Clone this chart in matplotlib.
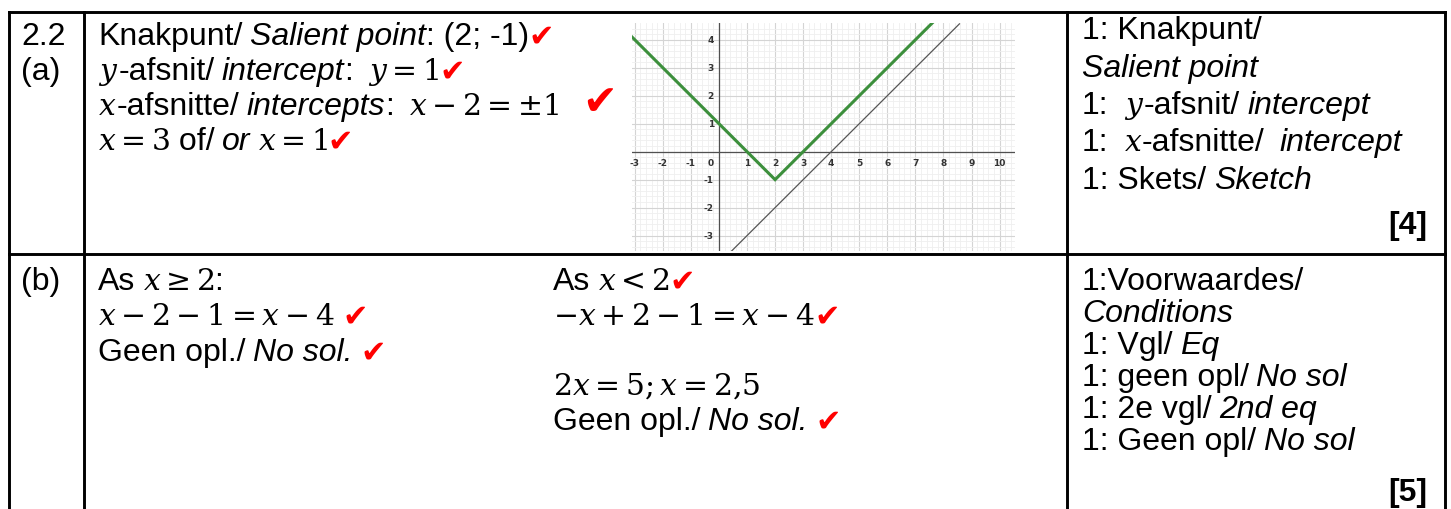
import matplotlib
matplotlib.use("Agg")
import matplotlib.pyplot as plt

W, H = 1451, 510

# graph data
green_x = [-3.1, 2, 7.6]
green_y = [4.1, -1, 4.6]
gray_x = [0.43, 8.57]
gray_y = [-3.57, 4.57]
x_ticks = [-3, -2, -1, 1, 2, 3, 4, 5, 6, 7, 8, 9, 10]
y_ticks = [-3, -2, -1, 1, 2, 3, 4]

# memo text, as runs of (text, style)
row_a_labels = ["2.2", "(a)"]
row_a_lines = [
    [("Knakpunt/", "n"), (" ", "sp"), ("Salient point", "i"), (": (2; -1)", "n"), ("\u2714", "ck")],
    [("$y$", "m"), ("-afsnit/", "n"), (" ", "sp"), ("intercept", "i"), (":", "n"), ("  ", "sp"),
     ("$y = 1$", "m"), ("\u2714", "ck")],
    [("$x$", "m"), ("-afsnitte/", "n"), (" ", "sp"), ("intercepts", "i"), (":", "n"), ("  ", "sp"),
     ("$x - 2 = \\pm 1$", "m"), ("   ", "sp"), ("\u2714", "ckbig")],
    [("$x = 3$", "m"), (" of/", "n"), (" ", "sp"), ("or", "i"), (" ", "sp"), ("$x = 1$", "m"), ("\u2714", "ck")],
]
row_a_marks = [
    [("1: Knakpunt/", "n")],
    [("Salient point", "i")],
    [("1:", "n"), ("  ", "sp"), ("$y$", "m"), ("-afsnit/", "n"), (" ", "sp"), ("intercept", "i")],
    [("1:", "n"), ("  ", "sp"), ("$x$", "m"), ("-afsnitte/", "n"), ("  ", "sp"), ("intercept", "i")],
    [("1: Skets/", "n"), (" ", "sp"), ("Sketch", "i")],
]
row_b_label = "(b)"
row_b_left = [
    [("As", "n"), (" ", "sp"), ("$x \\geq 2$", "m"), (":", "n")],
    [("$x - 2 - 1 = x - 4$", "m"), (" ", "sp"), ("\u2714", "ck")],
    [("Geen opl./", "n"), (" ", "sp"), ("No sol.", "i"), (" ", "sp"), ("\u2714", "ck")],
]
row_b_mid = [
    [("As", "n"), (" ", "sp"), ("$x < 2$", "m"), ("\u2714", "ck")],
    [("$-x + 2 - 1 = x - 4$", "m"), ("\u2714", "ck")],
    [],
    [("$2x = 5; x = 2{,}5$", "m")],
    [("Geen opl./", "n"), (" ", "sp"), ("No sol.", "i"), (" ", "sp"), ("\u2714", "ck")],
]
row_b_marks = [
    [("1:Voorwaardes/", "n")],
    [("Conditions", "i")],
    [("1: Vgl/", "n"), (" ", "sp"), ("Eq", "i")],
    [("1: geen opl/", "n"), (" ", "sp"), ("No sol", "i")],
    [("1: 2e vgl/", "n"), (" ", "sp"), ("2nd eq", "i")],
    [("1: Geen opl/", "n"), (" ", "sp"), ("No sol", "i")],
]
totals = ["[4]", "[5]"]

FS = 23
plt.rcParams["mathtext.fontset"] = "dejavuserif"
STYLES = {
    "n": dict(family="Liberation Sans", fontsize=FS, color="black"),
    "i": dict(family="Liberation Sans", fontsize=FS, style="italic", color="black"),
    "m": dict(family="Liberation Sans", fontsize=21.5, color="black"),
    "ck": dict(family="DejaVu Sans", fontsize=22, color="#ff0000"),
    "ckbig": dict(family="DejaVu Sans", fontsize=30, color="#ff0000"),
}
SPACE = 7.5

fig = plt.figure(figsize=(W / 100, H / 100), dpi=100)
ax = fig.add_axes([0, 0, 1, 1])
ax.set_xlim(0, W)
ax.set_ylim(H, 0)
ax.axis("off")
renderer = fig.canvas.get_renderer()


def draw_runs(x, y, runs):
    for text, style in runs:
        if style == "sp":
            x += SPACE * len(text)
            continue
        t = ax.text(x, y, text, ha="left", va="baseline", **STYLES[style])
        bb = t.get_window_extent(renderer)
        x = ax.transData.inverted().transform((bb.x1, bb.y0))[0]


# table rules
lw = 2.1
for yy in [13, 255]:
    ax.plot([9, 1445], [yy, yy], color="black", lw=lw, solid_capstyle="projecting")
for xx in [9, 84, 1067, 1445]:
    ax.plot([xx, xx], [13, H + 5], color="black", lw=lw, solid_capstyle="projecting")

# row (a)
for i, lab in enumerate(row_a_labels):
    ax.text(21, 45 + 35 * i, lab, ha="left", va="baseline", **STYLES["n"])
for i, runs in enumerate(row_a_lines):
    draw_runs(98, 45 + 35 * i, runs)
for i, runs in enumerate(row_a_marks):
    draw_runs(1082, 39 + 37.5 * i, runs)
ax.text(1427, 234, totals[0], ha="right", va="baseline", fontweight="bold", **STYLES["n"])

# row (b)
ax.text(21, 290, row_b_label, ha="left", va="baseline", **STYLES["n"])
for i, runs in enumerate(row_b_left):
    draw_runs(98, 290 + 35.5 * i, runs)
for i, runs in enumerate(row_b_mid):
    draw_runs(553, 290 + 35 * i, runs)
for i, runs in enumerate(row_b_marks):
    draw_runs(1082, 290 + 32 * i, runs)
ax.text(1427, 501, totals[1], ha="right", va="baseline", fontweight="bold", **STYLES["n"])

# the sketch of the graph
gx0, gx1, gy0, gy1 = 632, 1015, 24, 252
gax = fig.add_axes([gx0 / W, 1 - gy1 / H, (gx1 - gx0) / W, (gy1 - gy0) / H])
gax.set_xlim(-3.1, 10.55)
gax.set_ylim(-3.55, 4.6)
for s in gax.spines.values():
    s.set_visible(False)
gax.set_xticks(range(-3, 11))
gax.set_yticks(range(-3, 5))
gax.set_xticks([v / 5 for v in range(-15, 53)], minor=True)
gax.set_yticks([v / 5 for v in range(-17, 23)], minor=True)
gax.grid(which="major", color="#d4d4d4", lw=0.8)
gax.grid(which="minor", color="#efefef", lw=0.6)
gax.tick_params(which="both", length=0, labelbottom=False, labelleft=False)
gax.axhline(0, color="#505050", lw=0.9)
gax.axvline(0, color="#505050", lw=0.9)
gax.plot(gray_x, gray_y, color="#555555", lw=0.9)
gax.plot(green_x, green_y, color="#3c8f3c", lw=2.2, solid_joinstyle="miter")
for v in x_ticks:
    gax.text(v, -0.22, str(v), ha="center", va="top", fontsize=6.5,
             fontweight="bold", color="#333333", family="DejaVu Sans")
gax.text(-0.3, -0.22, "0", ha="center", va="top", fontsize=6.5,
         fontweight="bold", color="#333333", family="DejaVu Sans")
for v in y_ticks:
    gax.text(-0.18, v, str(v), ha="right", va="center", fontsize=6.5,
             fontweight="bold", color="#333333", family="DejaVu Sans")

fig.savefig("out.png", dpi=100)
